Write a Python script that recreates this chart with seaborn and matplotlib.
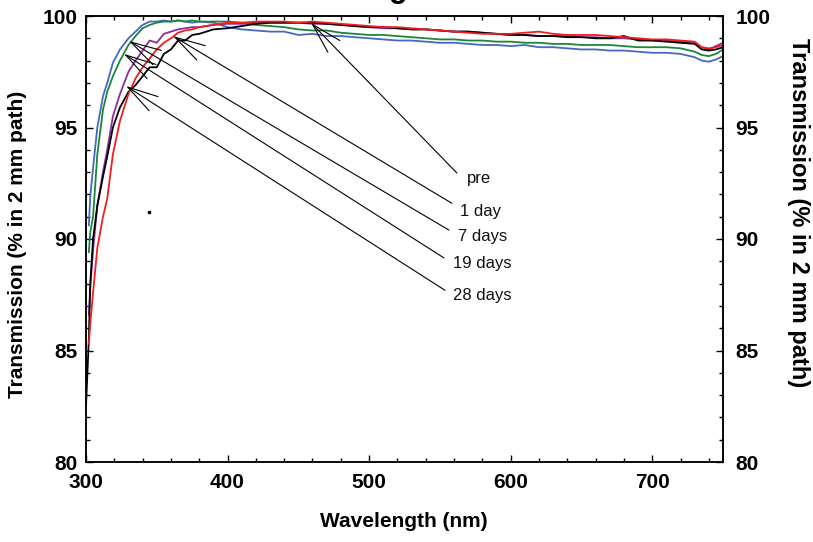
import numpy as np
import pandas as pd
import matplotlib
matplotlib.use("Agg")
import matplotlib.pyplot as plt
import seaborn as sns

nan = np.nan

wavelength = [300, 302, 303, 305, 308, 312, 315, 319, 324, 330, 335, 340, 345, 350, 355,
              360, 365, 370, 375, 380,
              390, 400, 410, 420, 430, 440, 450, 460, 470, 480, 490, 500, 510, 520, 530,
              540, 550, 560, 570, 580, 590, 600, 610, 620, 630, 640, 650, 660, 670, 680,
              690, 700, 710, 720, 730,
              735, 740, 745, 750]

t_pre = [nan, 85.3, 86.2, 87.6, 89.6, 91.0, 91.8, 93.8, 95.3, 96.5, 97.2, 97.7, 98.1, 98.5, 98.8,
         99.0, 99.25, 99.35, 99.4, 99.5,
         99.6, 99.7, 99.7, 99.75, 99.75, 99.75, 99.7, 99.75, 99.7, 99.65, 99.6, 99.55, 99.5, 99.5, 99.45,
         99.4, 99.35, 99.3, 99.25, 99.2, 99.2, 99.2, 99.25, 99.3, 99.2, 99.15, 99.15, 99.15, 99.1, 99.05,
         99.0, 98.95, 98.95, 98.9, 98.85,
         98.6, 98.55, 98.6, 98.7]

t_1day = [82.5, 85.5, 88.0, 90.0, 91.5, 92.8, 93.7, 95.0, 95.9, 96.6, 96.9, 97.3, 97.7, 97.7, 98.3,
          98.5, 98.9, 98.9, 99.15, 99.2,
          99.4, 99.45, 99.55, 99.65, 99.7, 99.7, 99.7, 99.7, 99.65, 99.6, 99.55, 99.5, 99.5, 99.45, 99.4,
          99.4, 99.35, 99.3, 99.3, 99.25, 99.2, 99.15, 99.15, 99.1, 99.1, 99.05, 99.05, 99.0, 99.0, 99.1,
          98.9, 98.9, 98.85, 98.8, 98.75,
          98.5, 98.45, 98.5, 98.6]

t_7days = [nan, 86.6, 87.8, 89.5, 91.5, 93.0, 94.0, 95.5, 96.5, 97.5, 98.0, 98.45, 98.9, 98.8, 99.2,
           99.3, 99.4, 99.45, 99.5, 99.5,
           99.6, 99.65, 99.65, 99.7, 99.7, 99.7, 99.7, 99.65, 99.65, 99.6, 99.55, 99.5, 99.45, 99.45, 99.4,
           99.4, 99.35, 99.3, 99.3, 99.25, 99.2, 99.15, 99.15, 99.1, 99.1, 99.1, 99.05, 99.05, 99.0, 99.0,
           98.95, 98.9, 98.9, 98.85, 98.8,
           98.6, 98.5, 98.65, 98.8]

t_19days = [nan, 89.4, 90.3, 91.0, 93.8, 95.8, 96.6, 97.3, 98.0, 98.7, 99.1, 99.45, 99.6, 99.7, 99.75,
            99.75, 99.8, 99.75, 99.8, 99.75,
            99.75, 99.75, 99.7, 99.6, 99.55, 99.5, 99.4, 99.35, 99.35, 99.25, 99.2, 99.15, 99.15, 99.1, 99.05,
            99.0, 98.95, 98.95, 98.9, 98.9, 98.85, 98.85, 98.8, 98.8, 98.75, 98.75, 98.7, 98.7, 98.7, 98.65,
            98.6, 98.6, 98.6, 98.55, 98.4,
            98.25, 98.2, 98.3, 98.5]

t_28days = [nan, 90.6, 91.9, 93.2, 95.0, 96.4, 97.0, 97.9, 98.5, 99.0, 99.3, 99.6, 99.75, 99.75, 99.8,
            99.75, 99.8, 99.75, 99.7, 99.75,
            99.7, 99.5, 99.4, 99.35, 99.3, 99.3, 99.15, 99.2, 99.1, 99.1, 99.05, 99.0, 98.95, 98.9, 98.9,
            98.85, 98.8, 98.8, 98.75, 98.7, 98.7, 98.65, 98.7, 98.6, 98.6, 98.55, 98.5, 98.5, 98.45, 98.45,
            98.4, 98.35, 98.35, 98.3, 98.15,
            98.0, 97.95, 98.05, 98.2]

samples = ["pre", "1 day", "7 days", "19 days", "28 days"]
colors = ["#f21d1d", "#000000", "#8c2f99", "#18873a", "#4767c0"]

# annotation arrows: tip on the curve, tail near the label, label centre
arrow_tip_wl = [459, 361.5, 330.4, 326.8, 328.3]
arrow_tip_t = [99.69, 99.1, 98.88, 98.3, 96.86]
arrow_tail_wl = [562, 558.5, 556.4, 552.9, 553.6]
arrow_tail_t = [92.96, 91.6, 90.4, 89.15, 87.7]
label_wl = [577.6, 579.0, 580.1, 580.1, 580.1]
label_t = [92.71, 91.23, 90.09, 88.90, 87.47]

stray_dot = ([344.5], [91.2])

df = pd.concat([
    pd.DataFrame({"wavelength": wavelength, "transmission": vals, "sample": s})
    for s, vals in zip(samples, [t_pre, t_1day, t_7days, t_19days, t_28days])
]).dropna()

sns.set_theme(style="ticks")
plt.rcParams["font.family"] = ["Liberation Sans", "DejaVu Sans"]
plt.rcParams["text.color"] = "black"
plt.rcParams["axes.labelcolor"] = "black"

fig = plt.figure(figsize=(8.13, 5.42), dpi=100)
ax = fig.add_axes([86 / 813, 1 - 462 / 542, 637 / 813, 446 / 542])

sns.lineplot(data=df, x="wavelength", y="transmission", hue="sample",
             hue_order=samples[::-1], palette=dict(zip(samples, colors)),
             estimator=None, sort=False, legend=False, lw=1.3, ax=ax)

for i in range(len(samples)):
    ax.annotate("", xy=(arrow_tip_wl[i], arrow_tip_t[i]),
                xytext=(arrow_tail_wl[i], arrow_tail_t[i]),
                arrowprops=dict(arrowstyle="->,head_length=2.2,head_width=0.6",
                                mutation_scale=10, lw=0.8, color="black",
                                shrinkA=0, shrinkB=0))
    ax.text(label_wl[i], label_t[i], samples[i], ha="center", va="center",
            fontsize=12, color="#111111")

ax.plot(stray_dot[0], stray_dot[1], "s", ms=1.8, color="black")

ax.set_xlim(300, 750)
ax.set_ylim(80, 100)
ax.set_xticks([300, 400, 500, 600, 700])
ax.set_xticks(np.arange(300, 751, 20), minor=True)
ax.set_yticks([80, 85, 90, 95, 100])
ax.set_yticks(np.arange(80, 101, 1), minor=True)

for sp in ax.spines.values():
    sp.set_linewidth(1.1)
    sp.set_color("black")

ax.tick_params(which="both", direction="in", top=True, right=False, colors="black", width=1.0)
ax.tick_params(which="major", length=5, labelsize=15)
ax.tick_params(axis="x", which="major", pad=8)
ax.tick_params(axis="y", which="major", pad=6)
ax.tick_params(which="minor", length=3)
for lab in ax.get_xticklabels() + ax.get_yticklabels():
    lab.set_fontweight("bold")

ax2 = ax.twinx()
ax2.set_ylim(80, 100)
ax2.set_yticks([80, 85, 90, 95, 100])
ax2.set_yticks(np.arange(80, 101, 1), minor=True)
ax2.tick_params(which="both", direction="in", colors="black", width=1.0)
ax2.tick_params(which="major", length=5, pad=9, labelsize=15)
ax2.tick_params(which="minor", length=3)
for lab in ax2.get_yticklabels():
    lab.set_fontweight("bold")
for sp in ax2.spines.values():
    sp.set_linewidth(1.1)
    sp.set_color("black")

ax.set_xlabel("Wavelength (nm)", fontsize=15, fontweight="bold", va="center", color="black")
ax.xaxis.set_label_coords(0.499, -0.1345)
ax.set_ylabel("Transmission (% in 2 mm path)", fontsize=15, fontweight="bold", va="center",
              color="black")
ax.yaxis.set_label_coords(-0.108, 0.489)
ax2.set_ylabel("Transmission (% in 2 mm path)", fontsize=17, fontweight="bold",
               rotation=270, va="center", color="black")
ax2.yaxis.set_label_coords(1.118, 0.56)

# cut-off title descender at the top edge
fig.text(398 / 813, 1.006, "g", fontsize=22, fontweight="bold", ha="center", va="baseline")

fig.savefig("out.png", dpi=100)
